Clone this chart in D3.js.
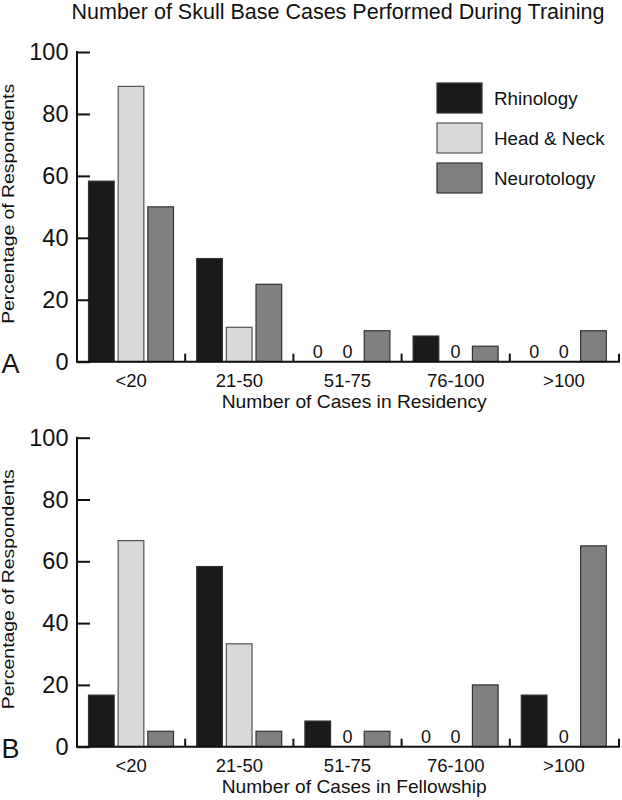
<!DOCTYPE html>
<html><head><meta charset="utf-8">
<script src="https://cdn.jsdelivr.net/npm/d3@7"></script>
<style>body{margin:0;background:#fff}svg{display:block;font-family:"Liberation Sans",Arial,sans-serif}</style>
</head><body><svg id="c" width="622" height="800"></svg>
<script>
const categories = ["<20","21-50","51-75","76-100",">100"];
const series = ["Rhinology","Head & Neck","Neurotology"];
const residency = {
  "Rhinology":   [58.3, 33.3, 0, 8.3, 0],
  "Head & Neck": [88.9, 11.1, 0, 0, 0],
  "Neurotology": [50, 25, 10, 5, 10]
};
const fellowship = {
  "Rhinology":   [16.7, 58.3, 8.3, 0, 16.7],
  "Head & Neck": [66.7, 33.3, 0, 0, 0],
  "Neurotology": [5, 5, 5, 20, 65]
};
const yTicks = [0,20,40,60,80,100];
const colors = {"Rhinology":"#1a1a1a","Head & Neck":"#d9d9d9","Neurotology":"#808080"};
const strokes = {"Rhinology":"#333","Head & Neck":"#555","Neurotology":"#333"};
const FONT = "Liberation Sans, Arial, sans-serif";

const svg = d3.select("#c");
svg.append("text").attr("x",338).attr("y",18.5).attr("text-anchor","middle")
  .attr("font-size",21.3).attr("fill","#111")
  .attr("textLength",533).attr("lengthAdjust","spacingAndGlyphs")
  .text("Number of Skull Base Cases Performed During Training");

const x0 = d3.scaleBand().domain(categories).range([77,618]);
const x1 = d3.scaleBand().domain(series).range([11,97]).paddingInner(0.1);

function panel(data, top, bottom, letter, xTitle){
  const y = d3.scaleLinear().domain([0,100]).range([bottom, top]);
  const g = svg.append("g");
  // bars
  categories.forEach((c,i)=>{
    series.forEach(s=>{
      const v = data[s][i];
      const bx = x0(c)+x1(s);
      if (v>0){
        g.append("rect").attr("x",bx+0.5).attr("y",y(v)).attr("width",x1.bandwidth()-1)
          .attr("height",y(0)-y(v)).attr("fill",colors[s]).attr("stroke",strokes[s]).attr("stroke-width",1.2);
      } else {
        g.append("text").attr("x",bx+x1.bandwidth()/2).attr("y",y(0)-3.5).attr("text-anchor","middle")
          .attr("font-size",18).attr("fill","#111").text("0");
      }
    });
  });
  // y axis
  const ya = g.append("g").attr("transform",`translate(77,0)`)
    .call(d3.axisLeft(y).tickValues(yTicks).tickSize(-13).tickPadding(8.5).tickSizeOuter(0));
  ya.select(".domain").attr("stroke","#111").attr("stroke-width",2).attr("d",`M0,${y(100)-1}V${y(0)}`);
  ya.selectAll(".tick line").attr("stroke","#111").attr("stroke-width",2);
  ya.selectAll(".tick text").attr("font-size",23.5).attr("fill","#111").attr("font-family",FONT);
  // x axis
  const xa = g.append("g").attr("transform",`translate(0,${bottom})`)
    .call(d3.axisBottom(x0).tickSize(0).tickPadding(12));
  xa.select(".domain").attr("stroke","#111").attr("stroke-width",2).attr("d","M76,0H620");
  xa.selectAll(".tick text").attr("font-size",18.5).attr("fill","#111").attr("font-family",FONT);
  // separator ticks
  const seps = x0.domain().slice(1).map(c=>x0(c)).concat([x0.range()[1]+1]);
  g.selectAll(null).data(seps).enter().append("line")
    .attr("x1",d=>d).attr("x2",d=>d)
    .attr("y1",bottom).attr("y2",bottom-8).attr("stroke","#111").attr("stroke-width",2);
  // y title
  svg.append("text").attr("transform",`translate(14.4,${(top+bottom)/2-3}) rotate(-90)`)
    .attr("text-anchor","middle").attr("font-size",17).attr("fill","#111")
    .attr("textLength",240).attr("lengthAdjust","spacingAndGlyphs").text("Percentage of Respondents");
  // letter
  svg.append("text").attr("x",1.5).attr("y",bottom+11).attr("font-size",27).attr("fill","#111").text(letter);
  // x title
  svg.append("text").attr("x",354.2).attr("y",bottom+46.3).attr("text-anchor","middle")
    .attr("font-size",19).attr("fill","#111")
    .attr("textLength",265).attr("lengthAdjust","spacingAndGlyphs").text(xTitle);
}
panel(residency, 52, 361.7, "A", "Number of Cases in Residency");
panel(fellowship, 437.7, 746.7, "B", "Number of Cases in Fellowship");

// legend
const lg = svg.append("g").attr("transform","translate(437,83)");
series.forEach((s,i)=>{
  lg.append("rect").attr("x",0).attr("y",i*40).attr("width",45).attr("height",30)
    .attr("fill",colors[s]).attr("stroke",strokes[s]).attr("stroke-width",1.2);
  lg.append("text").attr("x",57).attr("y",i*40+22).attr("font-size",18.8).attr("fill","#111").text(s);
});
</script></body></html>
